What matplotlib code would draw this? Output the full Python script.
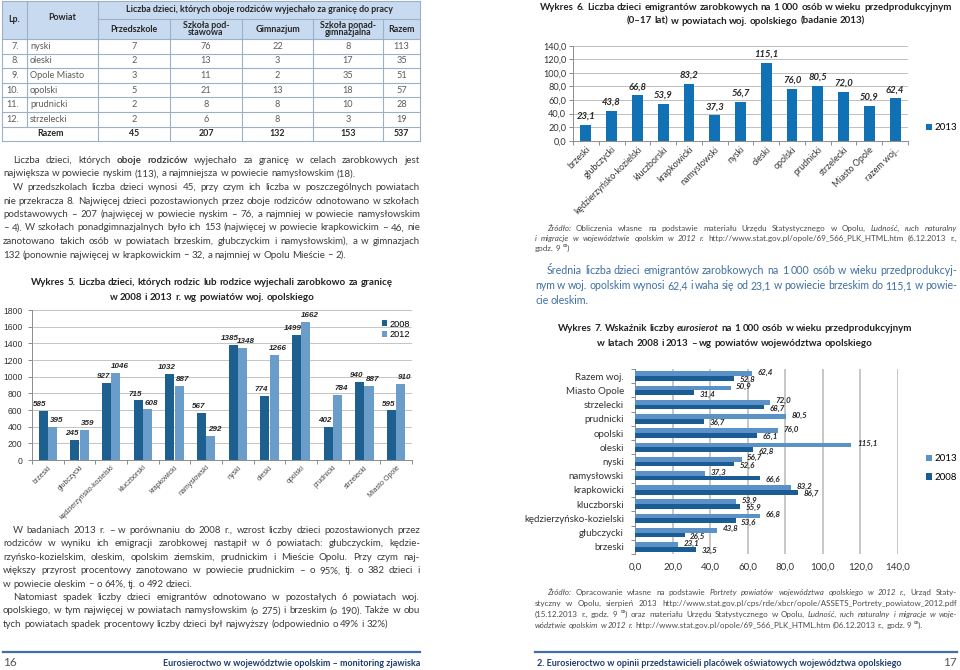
import matplotlib.pyplot as plt
import numpy as np

plt.rcParams['font.family'] = ['Lato', 'DejaVu Sans']

# --- data -------------------------------------------------------------
tab_lp = ['7.', '8.', '9.', '10.', '11.', '12.']
tab_pow = ['nyski', 'oleski', 'Opole Miasto', 'opolski', 'prudnicki', 'strzelecki']
tab_przedszkole = [7, 2, 3, 5, 2, 2]
tab_podstawowa = [76, 13, 11, 21, 8, 6]
tab_gimnazjum = [22, 3, 2, 13, 8, 8]
tab_ponadgimn = [8, 17, 35, 18, 10, 3]
tab_razem = [113, 35, 51, 57, 28, 19]
tab_suma = [45, 207, 132, 153, 537]

pow5 = ['brzeski', 'głubczycki', 'kędzierzyńsko-kozielski', 'kluczborski', 'krapkowicki',
        'namysłowski', 'nyski', 'oleski', 'opolski', 'prudnicki', 'strzelecki', 'Miasto Opole']
w5_2008 = [585, 245, 927, 715, 1032, 567, 1385, 774, 1499, 402, 940, 595]
w5_2012 = [395, 359, 1046, 608, 887, 292, 1348, 1266, 1662, 784, 887, 910]

pow6 = ['brzeski', 'głubczycki', 'kędzierzyńsko-kozielski', 'kluczborski', 'krapkowicki',
        'namysłowski', 'nyski', 'oleski', 'opolski', 'prudnicki', 'strzelecki', 'Miasto Opole',
        'razem woj..']
w6_2013 = [23.1, 43.8, 66.8, 53.9, 83.2, 37.3, 56.7, 115.1, 76.0, 80.5, 72.0, 50.9, 62.4]

pow7 = ['brzeski', 'głubczycki', 'kędzierzyńsko-kozielski', 'kluczborski', 'krapkowicki',
        'namysłowski', 'nyski', 'oleski', 'opolski', 'prudnicki', 'strzelecki', 'Miasto Opole',
        'Razem woj.']
w7_2013 = [23.1, 43.8, 66.8, 53.9, 83.2, 37.3, 56.7, 115.1, 76.0, 80.5, 72.0, 50.9, 62.4]
w7_2008 = [32.5, 26.5, 53.6, 55.9, 86.7, 66.6, 52.6, 62.8, 65.1, 36.7, 68.7, 31.4, 52.8]

# --- page -------------------------------------------------------------
W, H = 960, 670
fig = plt.figure(figsize=(9.6, 6.7), dpi=100)
page = fig.add_axes([0, 0, 1, 1], zorder=0)
page.set_xlim(0, W)
page.set_ylim(H, 0)
page.axis('off')
R = fig.canvas.get_renderer()


def box(l, t, r, b):
    return [l / W, 1 - b / H, (r - l) / W, (b - t) / H]


def comma(v):
    return f'{v:.1f}'.replace('.', ',')


def line(parts, x0, x1, y, size, color='#3c3c3c', align='justify', indent=0, weight='normal'):
    items = []
    for txt, st in parts:
        for w in txt.split(' '):
            if not w:
                continue
            t = page.text(0, y, w, fontsize=size, color=color, va='baseline',
                          fontweight='bold' if 'b' in st else weight,
                          fontstyle='italic' if 'i' in st else 'normal')
            items.append(t)
    ws = [t.get_window_extent(R).width for t in items]
    sp = size * 0.25 * 100 / 72
    if align == 'justify' and len(items) > 1:
        x = x0 + indent
        sp = (x1 - x - sum(ws)) / (len(items) - 1)
        if sp < 2.2:
            # words too wide for the column: shrink the line a little
            k = (x1 - x - 2.2 * (len(items) - 1)) / sum(ws)
            for t in items:
                t.set_fontsize(size * k)
            ws = [w * k for w in ws]
            sp = 2.2
    elif align == 'center':
        x = (x0 + x1) / 2 - (sum(ws) + sp * (len(items) - 1)) / 2
    else:
        x = x0 + indent
    for t, w in zip(items, ws):
        t.set_x(x)
        x += w + sp


# --- table ------------------------------------------------------------
cols = [2, 27, 98, 170, 242, 313, 383, 420]
top, h1, h2, rh = 1, 19, 39, 14.6
rows = [h2 + rh * k for k in range(8)]
page.add_patch(plt.Rectangle((2, top), 418, h2 - top, color='#C8DAF0', lw=0))
lc = '#9DB0C6'
for yy in [top] + rows:
    page.plot([2, 420], [yy, yy], color=lc, lw=0.8)
page.plot([98, 420], [h1, h1], color=lc, lw=0.8)
for xx in [2, 98, 420]:
    page.plot([xx, xx], [top, rows[-1]], color=lc, lw=0.8)
page.plot([27, 27], [top, rows[-2]], color=lc, lw=0.8)
for xx in cols[3:7]:
    page.plot([xx, xx], [h1, rows[-1]], color=lc, lw=0.8)

hk = dict(fontsize=6.4, fontweight='bold', color='#262626', ha='center', va='center')
page.text(14.5, 20, 'Lp.', **hk)
page.text(62.5, 18, 'Powiat', **hk)
page.text(259, 10, 'Liczba dzieci, których oboje rodziców wyjechało za granicę do pracy', **hk)
heads = ['Przedszkole', 'Szkoła pod-\nstawowa', 'Gimnazjum', 'Szkoła ponad-\ngimnazjalna', 'Razem']
for i, h in enumerate(heads):
    page.text((cols[i + 2] + cols[i + 3]) / 2, 29, h, linespacing=0.85, **hk)

dk = dict(fontsize=6.6, color='#5c5c5c', va='center')
for r in range(6):
    yc = rows[r] + rh / 2
    page.text(19, yc, tab_lp[r], ha='right', **dk)
    page.text(30, yc, tab_pow[r], ha='left', **dk)
    vals = [tab_przedszkole[r], tab_podstawowa[r], tab_gimnazjum[r], tab_ponadgimn[r], tab_razem[r]]
    for i, v in enumerate(vals):
        page.text((cols[i + 2] + cols[i + 3]) / 2, yc, str(v), ha='center', **dk)
yc = rows[6] + rh / 2
page.text(50, yc, 'Razem', **hk)
for i, v in enumerate(tab_suma):
    page.text((cols[i + 2] + cols[i + 3]) / 2, yc, str(v), **hk)

# --- left page text ---------------------------------------------------
BS = 7.0
L0, L1 = 3, 420
para1 = [
    [('Liczba dzieci, których', ''), ('oboje rodziców', 'b'), ('wyjechało za granicę w celach zarobkowych jest', '')],
    [('największa w powiecie nyskim (113), a najmniejsza w powiecie namysłowskim (18).', '')],
    [('W przedszkolach liczba dzieci wynosi 45, przy czym ich liczba w poszczególnych powiatach', '')],
    [('nie przekracza 8. Najwięcej dzieci pozostawionych przez oboje rodziców odnotowano w szkołach', '')],
    [('podstawowych – 207 (najwięcej w powiecie nyskim – 76, a najmniej w powiecie namysłowskim', '')],
    [('– 4). W szkołach ponadgimnazjalnych było ich 153 (najwięcej w powiecie krapkowickim – 46, nie', '')],
    [('zanotowano takich osób w powiatach brzeskim, głubczyckim i namysłowskim), a w gimnazjach', '')],
    [('132 (ponownie najwięcej w krapkowickim – 32, a najmniej w Opolu Mieście – 2).', '')],
]
modes1 = ['justify', 'left', 'justify', 'justify', 'justify', 'justify', 'justify', 'left']
ind1 = [10, 0, 10, 0, 0, 0, 0, 0]
for k, p in enumerate(para1):
    line(p, L0, L1, 163 + 13.5 * k, BS, align=modes1[k], indent=ind1[k])

para2 = [
    'W badaniach 2013 r. – w porównaniu do 2008 r., wzrost liczby dzieci pozostawionych przez',
    'rodziców w wyniku ich emigracji zarobkowej nastąpił w 6 powiatach: głubczyckim, kędzie-',
    'rzyńsko-kozielskim, oleskim, opolskim ziemskim, prudnickim i Mieście Opolu. Przy czym naj-',
    'większy przyrost procentowy zanotowano w powiecie prudnickim – o 95%, tj. o 382 dzieci i',
    'w powiecie oleskim – o 64%, tj. o 492 dzieci.',
    'Natomiast spadek liczby dzieci emigrantów odnotowano w pozostałych 6 powiatach woj.',
    'opolskiego, w tym najwięcej w powiatach namysłowskim (o 275) i brzeskim (o 190). Także w obu',
    'tych powiatach spadek procentowy liczby dzieci był najwyższy (odpowiednio o 49% i 32%)',
]
modes2 = ['justify', 'justify', 'justify', 'justify', 'left', 'justify', 'justify', 'left']
ind2 = [10, 0, 0, 0, 0, 10, 0, 0]
for k, p in enumerate(para2):
    line([(p, '')], L0, L1, 533 + 13.4 * k, BS, align=modes2[k], indent=ind2[k])

TS = 7.0
line([('Wykres 5. Liczba dzieci, których rodzic lub rodzice wyjechali zarobkowo za granicę', 'b')],
     0, 424, 285, TS, color='#222222', align='center')
line([('w 2008 i 2013 r. wg powiatów woj. opolskiego', 'b')], 0, 424, 300, TS, color='#222222', align='center')

# footers
page.plot([3, 420], [652, 652], color='#3E6FA6', lw=1.6)
page.plot([535, 957], [652, 652], color='#3E6FA6', lw=1.6)
page.text(3, 666, '16', fontsize=8.5, color='#555555', va='baseline')
page.text(420, 666, 'Eurosieroctwo w województwie opolskim – monitoring zjawiska', fontsize=6.5,
          fontweight='bold', color='#1E3C6E', ha='right', va='baseline')
page.text(537, 666, '2. Eurosieroctwo w opinii przedstawicieli placówek oświatowych województwa opolskiego',
          fontsize=6.5, fontweight='bold', color='#1E3C6E', va='baseline')
page.text(957, 666, '17', fontsize=8.5, color='#555555', ha='right', va='baseline')

# --- right page text --------------------------------------------------
R0, R1 = 535, 957
line([('Wykres 6. Liczba dzieci emigrantów zarobkowych na 1 000 osób w wieku przedprodukcyjnym', 'b')],
     R0, R1, 10.5, TS, color='#222222', align='center')
line([('(0–17 lat) w powiatach woj. opolskiego (badanie 2013)', 'b')], R0, R1, 23.5, TS,
     color='#222222', align='center')

SS = 5.8
src1 = [
    [('Źródło:', 'i'), ('Obliczenia własne na podstawie materiału Urzędu Statystycznego w Opolu,', ''),
     ('Ludność, ruch naturalny', 'i')],
    [('i migracje w województwie opolskim w 2012 r.', 'i'),
     ('http://www.stat.gov.pl/opole/69_566_PLK_HTML.htm (6.12.2013 r.,', '')],
    [('godz. 9 ⁰⁰)', '')],
]
for k, p in enumerate(src1):
    line(p, R0, R1, 231 + 10 * k, SS, color='#4a4a4a', align='left' if k == 2 else 'justify',
         indent=12 if k == 0 else 0)

sred = [
    'Średnia liczba dzieci emigrantów zarobkowych na 1 000 osób w wieku przedprodukcyj-',
    'nym w woj. opolskim wynosi 62,4 i waha się od 23,1 w powiecie brzeskim do 115,1 w powie-',
    'cie oleskim.',
]
for k, p in enumerate(sred):
    line([(p, '')], R0, R1, 274 + 15 * k, 7.7, color='#3F6FA2', align='left' if k == 2 else 'justify',
         indent=12 if k == 0 else 0)

line([('Wykres 7. Wskaźnik liczby', 'b'), ('eurosierot', 'bi'),
      ('na 1 000 osób w wieku przedprodukcyjnym', 'b')], R0, R1 - 22, 331, TS, color='#222222', align='center')
line([('w latach 2008 i 2013 – wg powiatów województwa opolskiego', 'b')], R0, R1 - 22, 346, TS,
     color='#222222', align='center')

src2 = [
    [('Źródło:', 'i'), ('Opracowanie własne na podstawie', ''),
     ('Portrety powiatów województwa opolskiego w 2012 r.,', 'i'), ('Urząd Staty-', '')],
    [('styczny w Opolu, sierpień 2013 http://www.stat.gov.pl/cps/rde/xbcr/opole/ASSETS_Portrety_powiatow_2012.pdf', '')],
    [('(15.12.2013 r., godz. 9 ⁰⁰) oraz materiału Urzędu Statystycznego w Opolu,', ''),
     ('Ludność, ruch naturalny i migracje w woje-', 'i')],
    [('wództwie opolskim w 2012 r.', 'i'), ('http://www.stat.gov.pl/opole/69_566_PLK_HTML.htm (06.12.2013 r., godz. 9 ⁰⁰).', '')],
]
for k, p in enumerate(src2):
    line(p, R0, R1, 595 + 11 * k, SS, color='#4a4a4a', align='left' if k == 3 else 'justify',
         indent=12 if k == 0 else 0)

# --- chart 5 ----------------------------------------------------------
c5d, c5l = '#1D5F8F', '#6B9DCB'
f5 = 'Liberation Sans'
ax5 = fig.add_axes(box(32, 310, 412, 460))
x5 = np.arange(len(pow5))
bw = 0.285
b1 = ax5.bar(x5 - bw / 2, w5_2008, bw, color=c5d, label='2008', zorder=3)
b2 = ax5.bar(x5 + bw / 2, w5_2012, bw, color=c5l, label='2012', zorder=3)
ax5.set_xlim(-0.5, len(pow5) - 0.5)
ax5.set_ylim(0, 1800)
ax5.set_yticks(range(0, 1801, 200))
ax5.set_yticklabels([str(v) for v in range(0, 1801, 200)], fontsize=6.2, family=f5, color='#333333')
ax5.grid(axis='y', color='#C4C4C4', lw=0.7)
ax5.set_axisbelow(True)
for s in ['top', 'right']:
    ax5.spines[s].set_visible(False)
for s in ['left', 'bottom']:
    ax5.spines[s].set_color('#8C8C8C')
    ax5.spines[s].set_linewidth(0.7)
ax5.set_xticks(x5)
ax5.set_xticklabels(pow5, rotation=45, ha='right', rotation_mode='anchor', fontsize=5.0,
                    family=f5, color='#444444')
ax5.set_xticks(np.arange(-0.5, len(pow5)), minor=True)
ax5.tick_params(axis='x', which='major', length=0, pad=3)
ax5.tick_params(axis='x', which='minor', length=3, color='#8C8C8C', width=0.7)
ax5.tick_params(axis='y', length=3, color='#8C8C8C', width=0.7, pad=4)
lab5 = dict(textcoords='offset points', ha='center', va='bottom', fontsize=5.8, fontweight='bold',
            fontstyle='italic', family=f5, color='#262626')
for xx, v in zip(x5, w5_2008):
    ax5.annotate(str(v), (xx - bw / 2, v), xytext=(-2.5, 2), **lab5)
for xx, v in zip(x5, w5_2012):
    ax5.annotate(str(v), (xx + bw / 2, v), xytext=(2.8, 2), **lab5)
ax5.legend(loc='upper left', bbox_to_anchor=(377 / W, 1 - 315 / H), bbox_transform=fig.transFigure,
           frameon=False, prop={'family': f5, 'size': 6.6}, handlelength=0.6,
           handleheight=0.6, handletextpad=0.3, labelspacing=0.15, borderpad=0)

# --- chart 6 ----------------------------------------------------------
c6 = '#1071B5'
ax6 = fig.add_axes(box(573, 45.7, 908, 140.7))
x6 = np.arange(len(pow6))
b6 = ax6.bar(x6, w6_2013, 0.42, color=c6, label='2013', zorder=3)
ax6.set_xlim(-0.5, len(pow6) - 0.5)
ax6.set_ylim(0, 140)
ax6.set_yticks(range(0, 141, 20))
ax6.set_yticklabels([comma(v) for v in range(0, 141, 20)], fontsize=6.6, color='#333333')
ax6.grid(axis='y', color='#BEBEBE', lw=0.7)
ax6.set_axisbelow(True)
for s in ['top', 'right']:
    ax6.spines[s].set_visible(False)
for s in ['left', 'bottom']:
    ax6.spines[s].set_color('#8C8C8C')
    ax6.spines[s].set_linewidth(0.7)
ax6.set_xticks(x6)
ax6.set_xticklabels(pow6, rotation=45, ha='right', rotation_mode='anchor', fontsize=6.4, color='#333333')
ax6.set_xticks(np.arange(-0.5, len(pow6)), minor=True)
ax6.tick_params(axis='x', which='major', length=0, pad=3)
ax6.tick_params(axis='x', which='minor', length=3, color='#8C8C8C', width=0.7)
ax6.tick_params(axis='y', length=3, color='#8C8C8C', width=0.7, pad=2)
ax6.bar_label(b6, labels=[comma(v) for v in w6_2013], padding=3, fontsize=6.8, fontweight='bold',
              fontstyle='italic', color='#262626')
ax6.legend(loc='center left', bbox_to_anchor=(921 / W, 1 - 128 / H), bbox_transform=fig.transFigure,
           frameon=False, fontsize=7, handlelength=0.6, handleheight=0.6, handletextpad=0.3, borderpad=0)

# --- chart 7 ----------------------------------------------------------
c7l, c7d = '#5A92C7', '#1A5C93'
ax7 = fig.add_axes(box(635, 369, 898, 554))
y7 = np.arange(len(pow7))
bh = 0.33
h13 = ax7.barh(y7 + bh / 2, w7_2013, bh, color=c7l, label='2013', zorder=3)
h08 = ax7.barh(y7 - bh / 2, w7_2008, bh, color=c7d, label='2008', zorder=3)
ax7.set_ylim(-0.5, len(pow7) - 0.5)
ax7.set_xlim(0, 140)
ax7.set_xticks(range(0, 141, 20))
ax7.set_xticklabels([comma(v) for v in range(0, 141, 20)], fontsize=7, color='#333333')
ax7.grid(axis='x', color='#BDBDBD', lw=1.2)
ax7.set_axisbelow(True)
for s in ['top', 'right', 'bottom']:
    ax7.spines[s].set_visible(False)
ax7.spines['left'].set_color('#8C8C8C')
ax7.spines['left'].set_linewidth(0.7)
ax7.set_yticks(y7)
ax7.set_yticklabels(pow7, fontsize=7, color='#333333')
ax7.set_yticks(np.arange(-0.5, len(pow7)), minor=True)
ax7.tick_params(axis='y', which='major', length=0, pad=8)
ax7.tick_params(axis='y', which='minor', length=3, color='#8C8C8C', width=0.7)
ax7.tick_params(axis='x', length=0, pad=6)
for yy, v in zip(y7, w7_2013):
    ax7.annotate(comma(v), (v, yy + bh / 2), xytext=(4, 1), textcoords='offset points', fontsize=5.8,
                 fontweight='bold', fontstyle='italic', color='#262626', va='center')
for yy, v in zip(y7, w7_2008):
    ax7.annotate(comma(v), (v, yy - bh / 2), xytext=(4, -1), textcoords='offset points', fontsize=5.8,
                 fontweight='bold', fontstyle='italic', color='#262626', va='center')
ax7.legend(handles=[h13, h08], loc='center left', bbox_to_anchor=(921 / W, 1 - 468 / H),
           bbox_transform=fig.transFigure, frameon=False, fontsize=7, handlelength=0.6, handleheight=0.6,
           handletextpad=0.3, labelspacing=1.0, borderpad=0)

fig.savefig('out.png', dpi=100)
